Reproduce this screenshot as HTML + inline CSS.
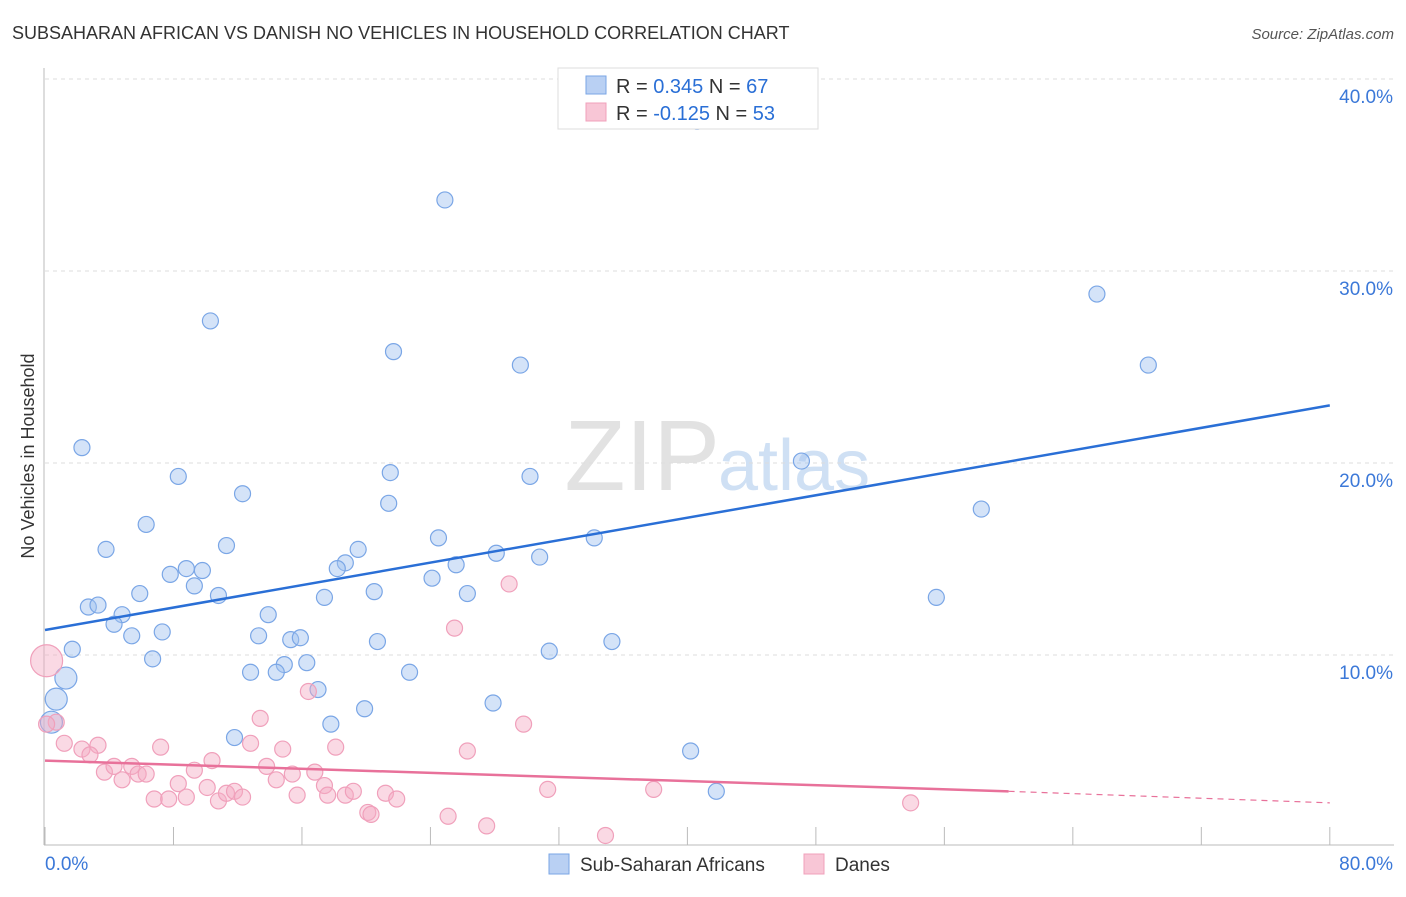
<!DOCTYPE html>
<html><head><meta charset="utf-8"><style>
body{margin:0;background:#fff;font-family:"Liberation Sans",sans-serif;}
svg text{font-family:"Liberation Sans",sans-serif;}
</style></head><body>
<svg id="chart" width="1406" height="892" xmlns="http://www.w3.org/2000/svg">
<text x="12" y="39" font-size="18" fill="#333">SUBSAHARAN AFRICAN VS DANISH NO VEHICLES IN HOUSEHOLD CORRELATION CHART</text>
<text x="1394" y="39" font-size="15" fill="#555" text-anchor="end" font-style="italic">Source: ZipAtlas.com</text>
<text x="720" y="490" font-size="100" fill="#e2e2e2" text-anchor="end" font-family="Liberation Serif">ZIP</text>
<text x="718" y="490" font-size="72" fill="#cfe0f4">atlas</text>
<text transform="translate(34,456) rotate(-90)" font-size="18" fill="#333" text-anchor="middle">No Vehicles in Household</text>
<g id="grid"></g><g id="axes"></g><g id="pts"></g><g id="trends"></g>
<g>
<rect x="558" y="68" width="260" height="61" fill="#fff" stroke="#ddd"/>
<rect x="586" y="76" width="20" height="18" fill="#b9d0f3" stroke="#7aa6e6"/>
<rect x="586" y="103" width="20" height="18" fill="#f8c6d6" stroke="#f0a0bb"/>
<text x="616" y="93" font-size="20" fill="#333">R = <tspan fill="#2a6fd6">0.345</tspan>   N = <tspan fill="#2a6fd6">67</tspan></text>
<text x="616" y="120" font-size="20" fill="#333">R = <tspan fill="#2a6fd6">-0.125</tspan>   N = <tspan fill="#2a6fd6">53</tspan></text>
</g>
<g>
<rect x="549" y="854" width="20" height="20" fill="#b9d0f3" stroke="#7aa6e6"/>
<text x="580" y="871" font-size="19" fill="#333">Sub-Saharan Africans</text>
<rect x="804" y="854" width="20" height="20" fill="#f8c6d6" stroke="#f0a0bb"/>
<text x="835" y="871" font-size="19" fill="#333">Danes</text>
</g>
</svg>
<script>
const yTicks=[10,20,30,40];
const yTickLabels=["10.0%","20.0%","30.0%","40.0%"];
const xTickLabels=["0.0%","80.0%"];
const blueX=[40.6,24.9,10.3,21.7,29.6,65.5,68.7,2.3,8.3,12.3,21.5,30.2,47.1,21.4,6.3,58.3,3.8,11.3,24.5,19.5,34.2,28.1,30.8,18.7,18.2,25.6,8.8,9.8,7.8,24.1,9.3,10.8,5.9,20.5,26.3,17.4,55.5,2.7,3.3,4.8,13.9,4.3,5.4,7.3,13.3,15.3,15.9,20.7,35.3,1.7,31.4,6.7,14.9,16.3,12.8,14.4,22.7,1.3,17.0,0.7,27.9,19.9,17.8,0.4,11.8,40.2,41.8];
const blueY=[37.8,33.7,27.4,25.8,25.1,28.8,25.1,20.8,19.3,18.4,19.5,19.3,20.1,17.9,16.8,17.6,15.5,15.7,16.1,15.5,16.1,15.3,15.1,14.8,14.5,14.7,14.5,14.4,14.2,14.0,13.6,13.1,13.2,13.3,13.2,13.0,13.0,12.5,12.6,12.1,12.1,11.6,11.0,11.2,11.0,10.8,10.9,10.7,10.7,10.3,10.2,9.8,9.5,9.6,9.1,9.1,9.1,8.8,8.2,7.7,7.5,7.2,6.4,6.5,5.7,5.0,2.9];
const pinkX=[0.1,0.7,1.2,2.3,3.3,2.8,3.7,4.3,4.8,5.4,5.8,6.3,7.2,6.8,7.7,8.3,8.8,9.3,10.4,10.1,10.8,11.3,11.8,12.3,12.8,13.4,13.8,14.4,14.8,15.4,15.7,16.4,16.8,17.4,17.6,18.1,18.7,19.2,20.1,20.3,21.2,21.9,25.1,25.5,26.3,27.5,28.9,29.8,31.3,34.9,37.9,53.9,0.1];
const pinkY=[9.7,6.5,5.4,5.1,5.3,4.8,3.9,4.2,3.5,4.2,3.8,3.8,5.2,2.5,2.5,3.3,2.6,4.0,4.5,3.1,2.4,2.8,2.9,2.6,5.4,6.7,4.2,3.5,5.1,3.8,2.7,8.1,3.9,3.2,2.7,5.2,2.7,2.9,1.8,1.7,2.8,2.5,1.6,11.4,5.0,1.1,13.7,6.4,3.0,0.6,3.0,2.3,6.4];
const blueTrend=[[0,11.3],[80,23.0]];
const pinkTrend=[[0,4.5],[60,2.9],[80,2.3]];
const X=v=>45+v*16.06, Y=v=>847-v*19.2;
const NS="http://www.w3.org/2000/svg";
function mk(tag,attrs,parent){const e=document.createElementNS(NS,tag);for(const k in attrs)e.setAttribute(k,attrs[k]);document.getElementById(parent).appendChild(e);return e;}
yTicks.forEach((t,i)=>{
 const l=mk('line',{x1:45,x2:1394,y1:Y(t),y2:Y(t),stroke:'#ddd','stroke-dasharray':'4,4'},'grid');
 
 
 const tx=mk('text',{x:1393,y:Y(t)+24,'font-size':19,fill:'#3b78d8','text-anchor':'end'},'grid');tx.textContent=yTickLabels[i];
 
 
});
mk('line',{x1:44,x2:44,y1:68,y2:845,stroke:'#bbb'},'axes');
mk('line',{x1:44,x2:1394,y1:845,y2:845,stroke:'#bbb'},'axes');
for(let i=0;i<=10;i++){mk('line',{x1:X(i*8),x2:X(i*8),y1:827,y2:845,stroke:'#bbb'},'axes');}
[[0,'start',45],[80,'end',1393]].forEach((a,i)=>{const t=mk('text',{x:a[2],y:870,'font-size':19,fill:'#3b78d8','text-anchor':a[1]},'axes');t.textContent=xTickLabels[i];
 
 });
blueX.forEach((v,i)=>{const c=mk('circle',{cx:X(v),cy:Y(blueY[i]),r:(i>=57&&v<2)?11:8,fill:'rgba(160,192,240,0.45)',stroke:'#7aa6e6','stroke-width':1.2},'pts');
 
 });
pinkX.forEach((v,i)=>{const c=mk('circle',{cx:X(v),cy:Y(pinkY[i]),r:i==0?16:8,fill:'rgba(245,170,195,0.45)',stroke:'#f0a0bb','stroke-width':1.2},'pts');
 
 });
const bl=mk('line',{x1:X(blueTrend[0][0]),y1:Y(blueTrend[0][1]),x2:X(blueTrend[1][0]),y2:Y(blueTrend[1][1]),stroke:'#2a6fd6','stroke-width':2.5},'trends');


const pl=mk('line',{x1:X(pinkTrend[0][0]),y1:Y(pinkTrend[0][1]),x2:X(pinkTrend[1][0]),y2:Y(pinkTrend[1][1]),stroke:'#e8719a','stroke-width':2.5},'trends');


const pd=mk('line',{x1:X(pinkTrend[1][0]),y1:Y(pinkTrend[1][1]),x2:X(pinkTrend[2][0]),y2:Y(pinkTrend[2][1]),stroke:'#e8719a','stroke-width':1.2,'stroke-dasharray':'6,5'},'trends');


</script>
</body></html>
